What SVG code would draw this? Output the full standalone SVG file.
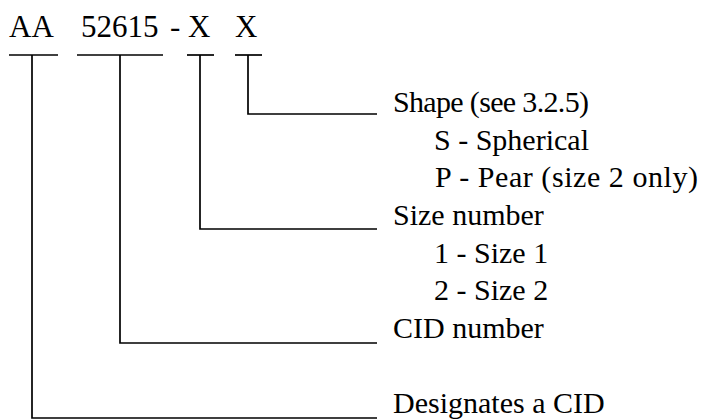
<svg xmlns="http://www.w3.org/2000/svg" width="704" height="420" viewBox="0 0 704 420">
<style>
.ln { stroke: #000; stroke-width: 1.7; fill: none; }
.t { font-family: 'Liberation Serif', 'Times New Roman', serif; fill: #000; }
</style>
<rect width="704" height="420" fill="#fff"/>
<g id="code">
<text class="t" font-family="Liberation Serif" font-size="31" y="37"><tspan x="9">AA</tspan><tspan x="81">52615</tspan><tspan x="170">-</tspan><tspan x="188">X</tspan><tspan x="235">X</tspan></text>
<line class="ln" x1="9" y1="55" x2="58" y2="55"/>
<line class="ln" x1="77" y1="55" x2="163" y2="55"/>
<line class="ln" x1="187" y1="55" x2="214" y2="55"/>
<line class="ln" x1="235" y1="55" x2="262" y2="55"/>
</g>
<g id="connectors">
<polyline class="ln" points="248,55 248,114 377,114"/>
<polyline class="ln" points="200,55 200,229 377,229"/>
<polyline class="ln" points="120,55 120,343 377,343"/>
<polyline class="ln" points="32,55 32,418 377,418"/>
</g>
<g id="shape" font-size="30">
<text class="t" font-family="Liberation Serif" x="393" y="112" textLength="196" lengthAdjust="spacing">Shape (see 3.2.5)</text>
<text class="t" font-family="Liberation Serif" x="434" y="150">S - Spherical</text>
<text class="t" font-family="Liberation Serif" x="435" y="187" textLength="263" lengthAdjust="spacing">P - Pear (size 2 only)</text>
</g>
<g id="size" font-size="30">
<text class="t" font-family="Liberation Serif" x="393" y="225">Size number</text>
<text class="t" font-family="Liberation Serif" x="434" y="263">1 - Size 1</text>
<text class="t" font-family="Liberation Serif" x="434" y="300">2 - Size 2</text>
</g>
<g id="cid" font-size="30">
<text class="t" font-family="Liberation Serif" x="393" y="338">CID number</text>
</g>
<g id="designates" font-size="30">
<text class="t" font-family="Liberation Serif" x="393" y="413">Designates a CID</text>
</g>
</svg>
